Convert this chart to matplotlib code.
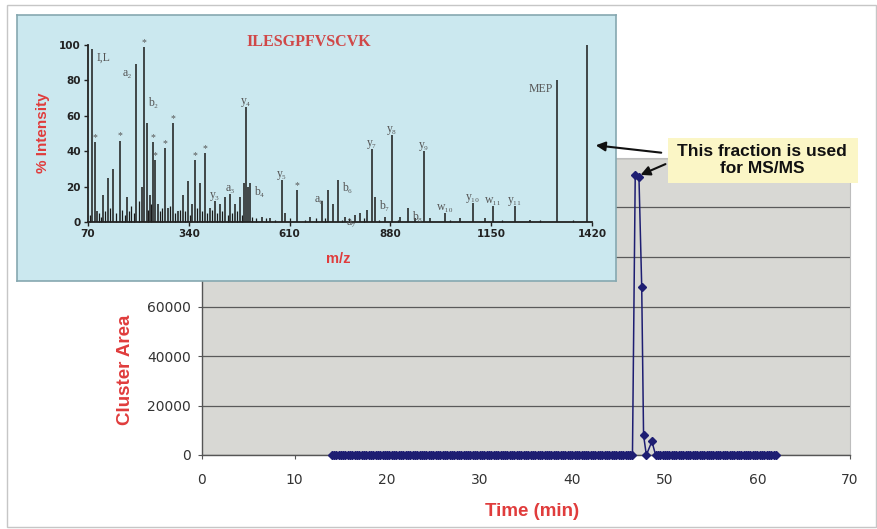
import matplotlib
matplotlib.use('Agg')
import matplotlib.pyplot as plt
from matplotlib.patches import Rectangle, FancyArrowPatch

# ---------------- data: main chromatogram ----------------
time_min = [
    14.0, 14.25, 14.5, 14.75, 15.0, 15.25, 15.5, 15.75, 16.0, 16.25, 16.5, 16.75,
    17.0, 17.25, 17.5, 17.75, 18.0, 18.25, 18.5, 18.75, 19.0, 19.25, 19.5, 19.75,
    20.0, 20.25, 20.5, 20.75, 21.0, 21.25, 21.5, 21.75, 22.0, 22.25, 22.5, 22.75,
    23.0, 23.25, 23.5, 23.75, 24.0, 24.25, 24.5, 24.75, 25.0, 25.25, 25.5, 25.75,
    26.0, 26.25, 26.5, 26.75, 27.0, 27.25, 27.5, 27.75, 28.0, 28.25, 28.5, 28.75,
    29.0, 29.25, 29.5, 29.75, 30.0, 30.25, 30.5, 30.75, 31.0, 31.25, 31.5, 31.75,
    32.0, 32.25, 32.5, 32.75, 33.0, 33.25, 33.5, 33.75, 34.0, 34.25, 34.5, 34.75,
    35.0, 35.25, 35.5, 35.75, 36.0, 36.25, 36.5, 36.75, 37.0, 37.25, 37.5, 37.75,
    38.0, 38.25, 38.5, 38.75, 39.0, 39.25, 39.5, 39.75, 40.0, 40.25, 40.5, 40.75,
    41.0, 41.25, 41.5, 41.75, 42.0, 42.25, 42.5, 42.75, 43.0, 43.25, 43.5, 43.75,
    44.0, 44.25, 44.5, 44.75, 45.0, 45.25, 45.5, 45.75, 46.0, 46.25, 46.5,
    46.8, 47.2, 47.5, 47.7, 48.0, 48.6, 49.0,
    49.25, 49.5, 49.75, 50.0, 50.25, 50.5, 50.75, 51.0, 51.25, 51.5, 51.75,
    52.0, 52.25, 52.5, 52.75, 53.0, 53.25, 53.5, 53.75, 54.0, 54.25, 54.5, 54.75,
    55.0, 55.25, 55.5, 55.75, 56.0, 56.25, 56.5, 56.75, 57.0, 57.25, 57.5, 57.75,
    58.0, 58.25, 58.5, 58.75, 59.0, 59.25, 59.5, 59.75, 60.0, 60.25, 60.5, 60.75,
    61.0, 61.25, 61.5, 61.75, 62.0]
cluster_area = [
    0, 0, 0, 0, 0, 0, 0, 0, 0, 0, 0, 0,
    0, 0, 0, 0, 0, 0, 0, 0, 0, 0, 0, 0,
    0, 0, 0, 0, 0, 0, 0, 0, 0, 0, 0, 0,
    0, 0, 0, 0, 0, 0, 0, 0, 0, 0, 0, 0,
    0, 0, 0, 0, 0, 0, 0, 0, 0, 0, 0, 0,
    0, 0, 0, 0, 0, 0, 0, 0, 0, 0, 0, 0,
    0, 0, 0, 0, 0, 0, 0, 0, 0, 0, 0, 0,
    0, 0, 0, 0, 0, 0, 0, 0, 0, 0, 0, 0,
    0, 0, 0, 0, 0, 0, 0, 0, 0, 0, 0, 0,
    0, 0, 0, 0, 0, 0, 0, 0, 0, 0, 0, 0,
    0, 0, 0, 0, 0, 0, 0, 0, 0, 0, 0,
    113000, 112500, 68000, 8000, 0, 5500, 0,
    0, 0, 0, 0, 0, 0, 0, 0, 0, 0, 0,
    0, 0, 0, 0, 0, 0, 0, 0, 0, 0, 0, 0,
    0, 0, 0, 0, 0, 0, 0, 0, 0, 0, 0, 0,
    0, 0, 0, 0, 0, 0, 0, 0, 0, 0, 0, 0,
    0, 0, 0, 0, 0]
x_ticks = [0, 10, 20, 30, 40, 50, 60, 70]
y_ticks = [0, 20000, 40000, 60000, 80000, 100000, 120000]
# tick labels that are not hidden behind the inset spectrum
y_tick_labels = ['0', '20000', '40000', '60000', '', '', '']

# ---------------- data: MS/MS spectrum (inset) ----------------
peak_mz = [82, 89, 94, 110, 124, 137, 156, 174, 199, 215, 220, 228, 236, 244, 249,
           257, 276, 284, 298, 311, 324, 338, 349, 357, 370, 383, 397, 410, 424,
           437, 450, 464, 477, 488, 493, 499, 504, 536, 558, 590, 598, 630, 665,
           697, 713, 726, 740, 758, 785, 799, 817, 831, 839, 866, 884, 906, 927,
           946, 970, 986, 1026, 1066, 1101, 1133, 1155, 1214, 1254, 1326, 1407]
peak_int = [98, 45, 6, 15, 25, 30, 46, 14, 89, 20, 99, 56, 15, 45, 35,
            10, 42, 8, 56, 6, 15, 23, 10, 35, 22, 39, 8, 12, 10,
            14, 16, 10, 14, 22, 65, 20, 22, 3, 2, 24, 5, 18, 3,
            12, 18, 10, 24, 3, 4, 5, 7, 41, 14, 3, 49, 3, 8,
            2, 40, 2, 5, 2, 11, 2, 9, 9, 1, 80, 100]
noise_mz = [76, 100, 104, 116, 130, 146, 162, 168, 180, 186, 192, 206, 232, 240,
            262, 268, 290, 304, 316, 330, 344, 362, 376, 390, 403, 416, 430, 444,
            456, 470, 482, 510, 520, 548, 570, 612, 650, 680, 704, 750, 770, 810,
            850, 900, 1040, 1180, 1280, 1370]
noise_int = [4, 5, 3, 6, 8, 5, 7, 4, 6, 9, 5, 12, 7, 10, 6, 8, 9, 5, 7, 6, 4,
             8, 6, 5, 7, 5, 6, 4, 5, 6, 4, 3, 2, 2, 1, 2, 1, 2, 2, 1, 2, 2,
             1, 1, 1, 1, 1, 1]
label_mz = [82, 89, 156, 199, 220, 228, 244, 249, 276, 298, 357, 383, 410, 450,
            493, 504, 590, 630, 713, 740, 799, 831, 839, 884, 927, 970, 1026,
            1101, 1155, 1214, 1326]
label_txt = ['I,L', '*', '*', 'a\u2082', '*', 'b\u2082', '*', '*', '*', '*', '*', '*',
             'y\u2083', 'a\u2083', 'y\u2084', 'b\u2084', 'y\u2085', '*', 'a\u2086',
             'b\u2086', 'a\u2087', 'y\u2087', 'b\u2087', 'y\u2088', 'b\u2088',
             'y\u2089', 'w\u2081\u2080', 'y\u2081\u2080', 'w\u2081\u2081',
             'y\u2081\u2081', 'MEP']
label_side = ['right', 'top', 'top', 'left', 'top', 'upright', 'top', 'top', 'top', 'top',
              'top', 'top', 'top', 'top', 'top', 'right', 'top', 'top', 'left',
              'right', 'left', 'top', 'right', 'top', 'right', 'top', 'top', 'top',
              'top', 'top', 'left']
spec_xticks = [70, 340, 610, 880, 1150, 1420]
spec_yticks = [0, 20, 40, 60, 80, 100]

# ---------------- layout helpers ----------------
W, H = 878, 529
fig = plt.figure(figsize=(W / 100, H / 100), dpi=100)
fig.patch.set_facecolor('white')


def fx(px):
    return px / W


def fy(py):
    return 1 - py / H


RED = '#e03c3c'
NAVY = '#1e1e72'

fig.add_artist(Rectangle((fx(7), fy(527)), fx(876) - fx(7), fy(5) - fy(527),
                         transform=fig.transFigure, fill=False, ec='#c6c6c6',
                         lw=1.0, zorder=0))

# ---------------- main axes ----------------
ax = fig.add_axes([fx(202), fy(455), fx(850) - fx(202), fy(158) - fy(455)])
ax.set_facecolor('#d8d8d4')
ax.set_xlim(0, 70)
ax.set_ylim(0, 120000)
ax.set_xticks(x_ticks)
ax.set_yticks(y_ticks)
ax.set_yticklabels(y_tick_labels)
ax.grid(axis='y', color='#5a5a5a', lw=0.9)
ax.set_axisbelow(True)
for s in ['left', 'bottom']:
    ax.spines[s].set_color('#555555')
    ax.spines[s].set_linewidth(1.0)
for s in ['top', 'right']:
    ax.spines[s].set_color('#bdbdbd')
ax.tick_params(axis='both', colors='#555555', length=3, labelsize=10,
               labelcolor='#333333')
ax.tick_params(axis='x', pad=10)
ax.tick_params(axis='y', pad=5)
ax.plot(time_min, cluster_area, color=NAVY, lw=1.1, marker='D', ms=4.4,
        mfc=NAVY, mec=NAVY, zorder=3, clip_on=False)

fig.text(fx(126), fy(370), 'Cluster Area', rotation=90, ha='center', va='center',
         color=RED, fontsize=13.5, fontweight='bold', family='Liberation Sans')
fig.text(fx(532), fy(511), 'Time (min)', ha='center', va='center',
         color=RED, fontsize=13.5, fontweight='bold', family='Liberation Sans')

# ---------------- inset panel ----------------
panel = fig.add_axes([fx(17), fy(281), fx(616) - fx(17), fy(15) - fy(281)])
panel.set_facecolor('#cbe8ef')
panel.set_xticks([])
panel.set_yticks([])
for s in panel.spines.values():
    s.set_color('#86a8b0')
    s.set_linewidth(1.2)
panel.set_zorder(5)

spec = fig.add_axes([fx(88), fy(222), fx(592) - fx(88), fy(45) - fy(222)])
spec.set_zorder(6)
spec.patch.set_alpha(0)
spec.set_xlim(70, 1420)
spec.set_ylim(0, 100)
spec.vlines(noise_mz, 0, noise_int, color='#1a1a1a', lw=0.9, clip_on=False)
spec.vlines(peak_mz, 0, peak_int, color='#1a1a1a', lw=1.1, clip_on=False)
for s in ['top', 'right']:
    spec.spines[s].set_visible(False)
for s in ['left', 'bottom']:
    spec.spines[s].set_color('#222222')
    spec.spines[s].set_linewidth(1.3)
spec.set_xticks(spec_xticks)
spec.set_yticks(spec_yticks)
spec.tick_params(axis='both', length=3, width=1, colors='#222222', labelsize=7.5, pad=2)
for lab in spec.get_xticklabels() + spec.get_yticklabels():
    lab.set_fontweight('bold')

lookup = dict(zip(peak_mz, peak_int))
for mz, txt, side in zip(label_mz, label_txt, label_side):
    h = lookup[mz]
    if side == 'top':
        kw = dict(xytext=(0, 0), ha='center', va='bottom')
    elif side == 'left':
        kw = dict(xytext=(-3, -2), ha='right', va='top')
    elif side == 'upright':
        kw = dict(xytext=(1, 10), ha='left', va='bottom')
    else:
        kw = dict(xytext=(3, -2), ha='left', va='top')
    size = 7 if txt == '*' else 8.5
    spec.annotate(txt, xy=(mz, h), xycoords='data', textcoords='offset points',
                  fontsize=size, color='#555555',
                  family=['Liberation Serif', 'DejaVu Serif'], annotation_clip=False,
                  **kw)

fig.text(fx(309), fy(42), 'ILESGPFVSCVK', ha='center', va='center', color='#d04848',
         fontsize=11.5, fontweight='bold', family='Liberation Serif', zorder=10)
fig.text(fx(43), fy(133), '% Intensity', rotation=90, ha='center', va='center',
         color=RED, fontsize=11, fontweight='bold', family='Liberation Sans', zorder=10)
fig.text(fx(338), fy(259), 'm/z', ha='center', va='center', color=RED,
         fontsize=10.5, fontweight='bold', family='Liberation Sans', zorder=10)

# ---------------- annotation ----------------
fig.add_artist(Rectangle((fx(668), fy(183)), fx(858) - fx(668), fy(138) - fy(183),
                         transform=fig.transFigure, fc='#fbf6c6', ec='none', zorder=8))
fig.text(fx(762), fy(160), 'This fraction is used\nfor MS/MS', ha='center', va='center',
         fontsize=12.5, fontweight='bold', family='Liberation Sans', color='#111111',
         linespacing=1.15, zorder=9)
for (x0, y0), (x1, y1) in [((664, 153), (593, 145)), ((668, 163), (638, 176))]:
    fig.add_artist(FancyArrowPatch((fx(x0), fy(y0)), (fx(x1), fy(y1)),
                                   transform=fig.transFigure, arrowstyle='-|>',
                                   mutation_scale=14, lw=1.5, color='#111111',
                                   zorder=12))

fig.savefig('out.png', dpi=100)
